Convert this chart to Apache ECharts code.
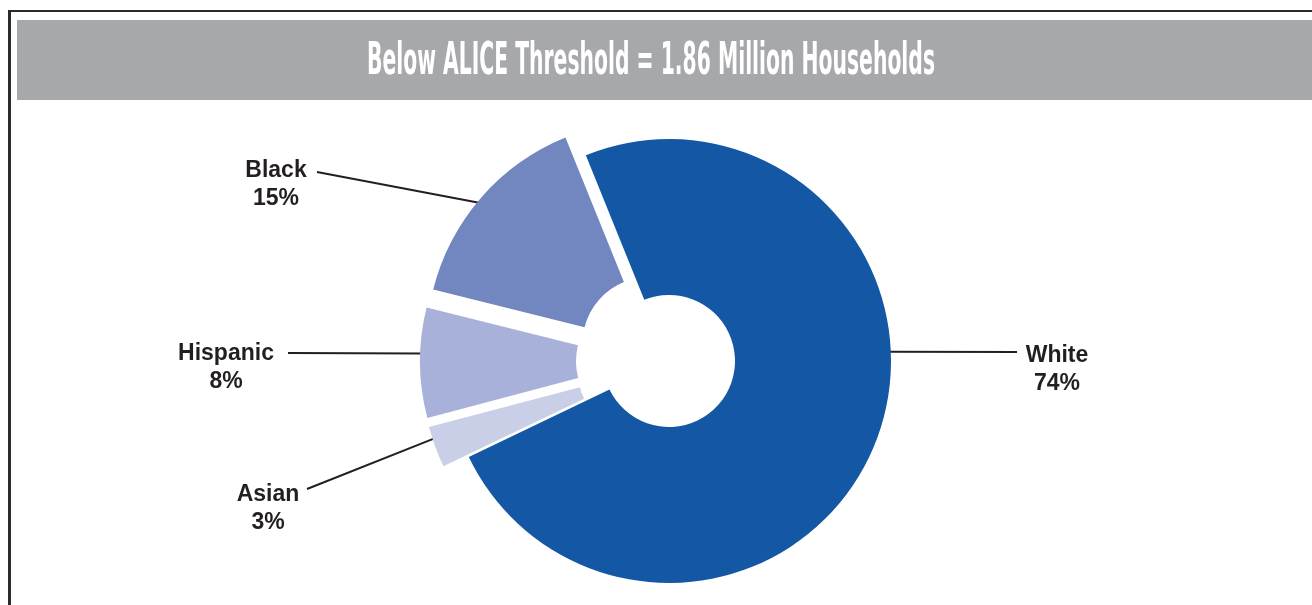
<!DOCTYPE html>
<html><head><meta charset="utf-8">
<script src="https://cdn.jsdelivr.net/npm/echarts@6/dist/echarts.min.js"></script>
<style>html,body{margin:0;padding:0;background:#fff}#chart{width:1312px;height:605px}</style>
</head><body><div id="chart"></div>
<script>
// ---- data ----
const titleText = 'Below ALICE Threshold = 1.86 Million Households';
const categories = ['White', 'Asian', 'Hispanic', 'Black'];
const shares = [74, 3, 8, 15];
const exploded = [false, true, true, true];

// ---- styling / layout ----
const sliceColors = ['#1457a5', '#c8cfe7', '#a8b1d9', '#7286c0'];
const CX = 669, CY = 361, R_IN = 66, R_OUT = 222, START = 112, OFFSET = 27;
const labelPlacement = {
  White:    { x: 1057, y: 370, end: [1017, 352], anchor: 2.4 },
  Asian:    { x: 268,  y: 509, end: [307, 489],  anchor: 198 },
  Hispanic: { x: 226,  y: 368, end: [288, 353],  anchor: 178 },
  Black:    { x: 276,  y: 185, end: [317, 172],  anchor: 140 }
};

const total = shares.reduce((a, b) => a + b, 0);
const sliceCentres = [];
let cum = 0;
shares.forEach((v, i) => {
  const mid = (START - (cum + v / 2) / total * 360) * Math.PI / 180;
  const off = exploded[i] ? OFFSET : 0;
  sliceCentres.push([CX + off * Math.cos(mid), CY - off * Math.sin(mid)]);
  cum += v;
});

// title width fit
const titleFont = 'bold 44px "Liberation Sans Narrow", "DejaVu Sans Condensed", "Liberation Sans", sans-serif';
const ctx = document.createElement('canvas').getContext('2d');
ctx.font = titleFont;
const titleScale = 568 / ctx.measureText(titleText).width;

const chart = echarts.init(document.getElementById('chart'), null, { renderer: 'canvas' });
chart.setOption({
  animation: false,
  backgroundColor: '#fff',
  graphic: [
    { type: 'rect', z: 0, shape: { x: 17, y: 20, width: 1300, height: 80 }, style: { fill: '#a7a8ab' } },
    { type: 'line', z: 0, shape: { x1: 9.5, y1: 11, x2: 1312, y2: 11 }, style: { stroke: '#2b2b2b', lineWidth: 2 } },
    { type: 'line', z: 0, shape: { x1: 9.5, y1: 10, x2: 9.5, y2: 605 }, style: { stroke: '#2b2b2b', lineWidth: 3 } },
    { type: 'text', z: 1, x: 651, y: 63, scaleX: titleScale,
      style: { text: titleText, font: titleFont, fill: '#ffffff', align: 'center', verticalAlign: 'middle' } }
  ],
  series: [
    {
      type: 'pie', z: 1, silent: true,
      center: [CX, CY], radius: [R_IN, R_OUT], startAngle: START, clockwise: true,
      avoidLabelOverlap: false,
      itemStyle: { color: 'rgba(0,0,0,0)' },
      emphasis: { disabled: true },
      data: categories.map((n, i) => ({ name: n, value: shares[i] })),
      label: {
        show: true, position: 'outside', formatter: '{b}\n{c}%',
        color: '#231f20', fontFamily: '"Liberation Sans", Arial, sans-serif',
        fontWeight: 'bold', fontSize: 23, lineHeight: 28, align: 'center'
      },
      labelLine: { show: true, lineStyle: { color: '#231f20', width: 2 } },
      labelLayout: function (params) {
        const i = params.dataIndex;
        const p = labelPlacement[categories[i]];
        const c = sliceCentres[i];
        const a = p.anchor * Math.PI / 180;
        const start = [c[0] + (R_OUT - 4) * Math.cos(a), c[1] - (R_OUT - 4) * Math.sin(a)];
        return {
          x: p.x, y: p.y, align: 'center', verticalAlign: 'middle',
          labelLinePoints: [start, p.end]
        };
      }
    },
    {
      type: 'pie', z: 2, silent: true,
      center: [CX, CY], radius: [R_IN, R_OUT], startAngle: START, clockwise: true,
      selectedMode: 'multiple', selectedOffset: OFFSET,
      stateAnimation: { duration: 0 },
      label: { show: false }, labelLine: { show: false },
      emphasis: { disabled: true },
      select: { itemStyle: { borderWidth: 0 } },
      data: categories.map((n, i) => ({
        name: n, value: shares[i], selected: exploded[i],
        itemStyle: { color: sliceColors[i] }
      }))
    }
  ]
});
</script>
</body></html>
